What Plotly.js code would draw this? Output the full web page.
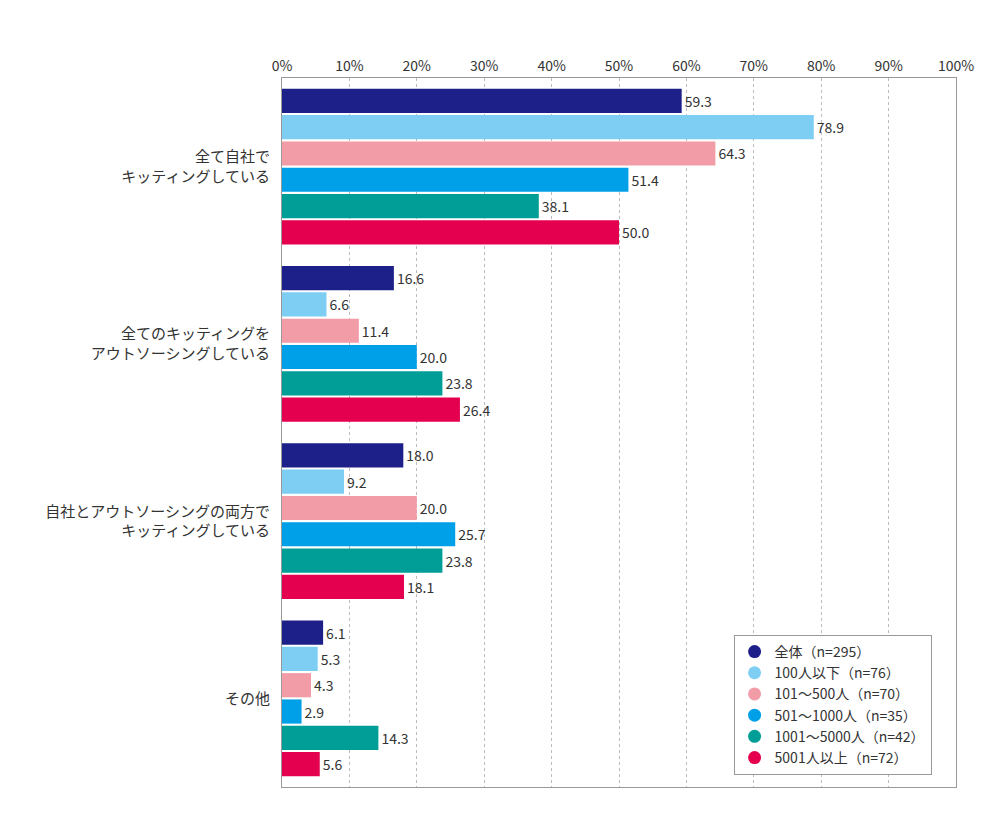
<!DOCTYPE html>
<html>
<head>
<meta charset="utf-8">
<script src="https://cdn.plot.ly/plotly-3.0.1.min.js"></script>
<style>body{margin:0;background:#fff}#chart{width:1000px;height:825px}</style>
</head>
<body>
<div id="chart"></div>
<script>
const categories = ['全て自社で<br>キッティングしている', '全てのキッティングを<br>アウトソーシングしている', '自社とアウトソーシングの両方で<br>キッティングしている', 'その他'];
const seriesNames = ['全体（n=295）', '100人以下（n=76）', '101～500人（n=70）', '501～1000人（n=35）', '1001～5000人（n=42）', '5001人以上（n=72）'];
const seriesColors = ['#1d2088', '#7ecef4', '#f19ca7', '#00a0e9', '#009e96', '#e4004f'];
const values = [
  [59.3, 16.6, 18.0, 6.1],
  [78.9, 6.6, 9.2, 5.3],
  [64.3, 11.4, 20.0, 4.3],
  [51.4, 20.0, 25.7, 2.9],
  [38.1, 23.8, 23.8, 14.3],
  [50.0, 26.4, 18.1, 5.6]
];
const tickVals = [0, 10, 20, 30, 40, 50, 60, 70, 80, 90, 100];
const tickText = tickVals.map(v => v + '%');

const font = 'Noto Sans CJK JP, sans-serif';
const data = [];
values.forEach((vals, i) => {
  data.push({
    type: 'bar', orientation: 'h', x: vals, y: categories,
    marker: {color: seriesColors[i]}, showlegend: false,
    text: vals.map(v => v.toFixed(1)), textposition: 'outside',
    textfont: {size: 14, color: '#333'}, cliponaxis: false, hoverinfo: 'skip'
  });
});
seriesNames.forEach((name, i) => {
  data.push({
    type: 'scatter', mode: 'markers', x: [null], y: [null], name: name,
    marker: {symbol: 'circle', size: 13, color: seriesColors[i]}
  });
});

const layout = {
  width: 1000, height: 825,
  margin: {l: 282, r: 44, t: 78, b: 38},
  font: {family: font, color: '#333', size: 14},
  barmode: 'group', bargap: 0.11, bargroupgap: 0.08,
  paper_bgcolor: '#fff', plot_bgcolor: '#fff',
  xaxis: {
    side: 'top', range: [0, 100], tickvals: tickVals, ticktext: tickText,
    showgrid: true, gridcolor: '#bbb', griddash: 'dot', zeroline: false,
    showline: true, linecolor: '#999', mirror: true, ticks: '', fixedrange: true,
    tickfont: {size: 14}
  },
  yaxis: {
    autorange: 'reversed', showline: true, linecolor: '#999', mirror: true,
    ticks: '', tickfont: {size: 15}, ticklabelstandoff: 8
  },
  legend: {
    x: 0.67, y: 0.017, xanchor: 'left', yanchor: 'bottom',
    bordercolor: '#999', borderwidth: 1, bgcolor: '#fff',
    font: {size: 14}, tracegroupgap: 0, itemwidth: 30
  }
};
Plotly.newPlot('chart', data, layout, {displayModeBar: false, staticPlot: true});
</script>
</body>
</html>
